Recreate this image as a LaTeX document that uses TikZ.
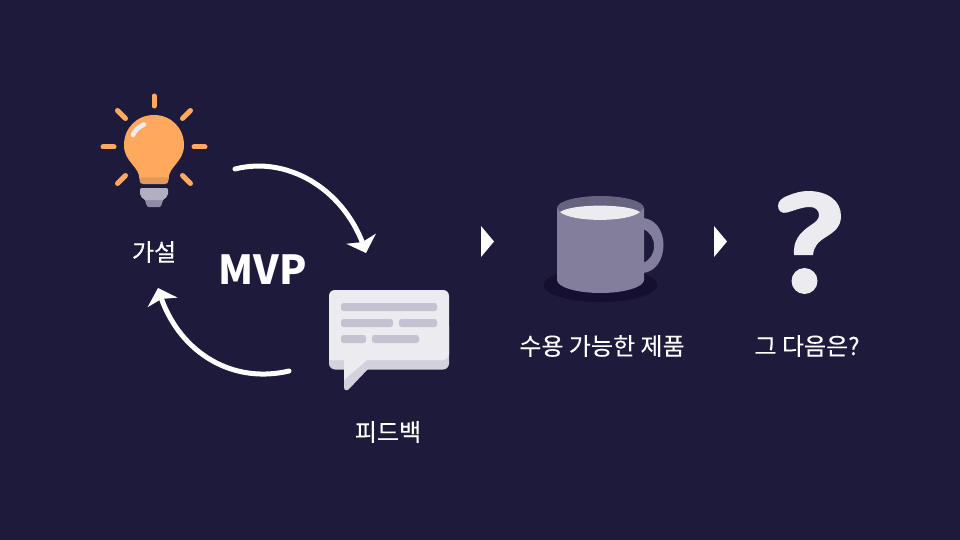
\documentclass[tikz,border=0pt]{standalone}
\usepackage{fontspec}
\setmainfont{Noto Sans CJK KR}
\newfontfamily\lblfont[FakeBold=0.12]{Noto Sans CJK KR}
\usetikzlibrary{arrows.meta,bending}
\definecolor{bgc}{HTML}{1E1A3C}
\definecolor{bulbc}{HTML}{FFA95F}
\definecolor{bulbd}{HTML}{E09B5C}
\definecolor{greyl}{HTML}{B3AFC2}
\definecolor{greyd}{HTML}{8F8BA5}
\definecolor{paper}{HTML}{ECEBF0}
\definecolor{paperd}{HTML}{D3D1DC}
\definecolor{barc}{HTML}{C5C2D2}
\definecolor{mugc}{HTML}{837E9B}
\definecolor{mugd}{HTML}{676280}
\definecolor{shadowc}{HTML}{151030}
\tikzset{
  lbl/.style={text=white,font=\lblfont\fontsize{24}{28}\selectfont,inner sep=0pt},
  ray/.style={draw=bulbc,line width=5pt,line cap=round},
  barline/.style={fill=barc,rounded corners=2.5pt},
  cycle arrow/.style={draw=white,line width=5pt,line cap=round,-{Stealth[length=15pt,width=31pt,inset=3.5pt,flex=1]}},
  chevron/.style={fill=white}
}
\begin{document}
\begin{tikzpicture}[x=1pt,y=-1pt]
\useasboundingbox (0,0) rectangle (960,540);
\fill[bgc] (0,0) rectangle (960,540);
% bulb rays
\draw[ray] (154,96) -- (154,106);
\draw[ray] (103,147) -- (114,147);
\draw[ray] (194,147) -- (205,147);
\draw[ray] (117.5,110.5) -- (125.5,118.5);
\draw[ray] (190.5,110.5) -- (182.5,118.5);
\draw[ray] (117.5,183.5) -- (125.5,175.5);
\draw[ray] (190.5,183.5) -- (182.5,175.5);
% bulb
\fill[bulbc] (139.5,179) .. controls (139,172) and (136,169) .. (132,164)
  .. controls (128,159) and (124,154) .. (124,145)
  .. controls (124,128) and (137,115) .. (154,115)
  .. controls (171,115) and (184,128) .. (184,145)
  .. controls (184,154) and (180,159) .. (176,164)
  .. controls (172,169) and (169,172) .. (168.5,179) -- cycle;
\fill[bulbd] (139.5,177.5) -- (168.5,177.5) -- (168.5,180) .. controls (168.5,183) and (167,184) .. (165,184)
  -- (143,184) .. controls (141,184) and (139.5,183) .. (139.5,180) -- cycle;
\fill[greyd] (144,197) -- (164,197) -- (161.5,205) .. controls (161,206.5) and (160,207) .. (159,207) -- (149,207) .. controls (148,207) and (147,206.5) .. (146.5,205) -- cycle;
\fill[greyl] (142,188) -- (166,188) .. controls (167.5,188) and (168,189) .. (168,190) -- (168,194)
  .. controls (168,197) and (165,198) .. (163,200) -- (145,200) .. controls (143,198) and (140,197) .. (140,194) -- (140,190) .. controls (140,189) and (140.5,188) .. (142,188) -- cycle;
\draw[paper,line width=4.6pt,line cap=round] (133,135) .. controls (135,130) and (139,127) .. (144,124.5);
% cycle arrows
\coordinate (a1s) at (235,169);
\coordinate (a1e) at (366,253);
\coordinate (a2s) at (289,371);
\coordinate (a2e) at (158,288);
\draw[cycle arrow] (a1s) .. controls (290,155) and (348,192) .. (a1e);
\draw[cycle arrow] (a2s) .. controls (230,385) and (175,350) .. (a2e);
% labels
\node[lbl] (hyp) at (154,252) {가설};
\node[text=white,font=\fontsize{40}{46}\selectfont\bfseries,inner sep=0pt] (mvp) at (262.5,269.5) {MVP};
\node[lbl] (fb) at (388,432) {피드백};
\node[lbl] (prod) at (602,346) {수용 가능한 제품};
\node[lbl] (next) at (807,346) {그 다음은?};
% bubble
\fill[paperd,rounded corners=6pt] (329,320) rectangle (449,369.5);
\fill[paperd] (344,360) -- (344,387) .. controls (344,391) and (347,391) .. (349,389) -- (368,369) -- (368,360) -- cycle;
\fill[paper] (344,360) -- (344,380) -- (367,360) -- cycle;
\fill[paper] (329,360) -- (329,296) .. controls (329,292.5) and (331.5,290) .. (335,290) -- (443,290) .. controls (446.5,290) and (449,292.5) .. (449,296) -- (449,354) .. controls (449,357.5) and (446.5,360) .. (443,360) -- cycle;
\fill[barline] (341,303) rectangle (437,311);
\fill[barline] (341,319) rectangle (393,327);
\fill[barline] (399,319) rectangle (437,327);
\fill[barline] (341,335) rectangle (366,343);
\fill[barline] (372,335) rectangle (419,343);
% chevrons
\fill[chevron] (481,226) -- (494,241.5) -- (481,257) -- cycle;
\fill[chevron] (714,226) -- (727,241.5) -- (714,257) -- cycle;
% mug
\fill[shadowc] (600.5,285) ellipse [x radius=57,y radius=17];
\fill[mugc,even odd rule] (640,218) -- (643,218) .. controls (655,219) and (663.5,230) .. (663.5,245) .. controls (663.5,260) and (655,272) .. (643,273) -- (640,273) -- cycle
 (640,229) -- (643,229) .. controls (650,232) and (654,238) .. (654,246) .. controls (654,254) and (650,260) .. (643,263) -- (640,263) -- cycle;
\fill[mugd] (600.5,208) ellipse [x radius=43.5,y radius=12];
\fill[mugc] (557,208) -- (560,212) -- (640,212) -- (644,208) -- (644,280)
  .. controls (644,287) and (624.5,293) .. (600.5,293)
  .. controls (576.5,293) and (557,287) .. (557,280) -- cycle;
\fill[paper] (560,212) .. controls (572,203.5) and (628,203.5) .. (640,212) .. controls (628,222.5) and (572,222.5) .. (560,212) -- cycle;
% question mark
\fill[paper] (778,206) .. controls (778,201) and (782,198) .. (787,196)
  .. controls (794,193) and (801,191) .. (808,191)
  .. controls (828,191) and (841,201) .. (841,216)
  .. controls (841,227) and (834,232) .. (826,237)
  .. controls (818,242) and (814,246) .. (813,255)
  -- (794,255) .. controls (793,241) and (799,233) .. (811,225)
  .. controls (816,222) and (819,219) .. (819,215)
  .. controls (819,210) and (815,207) .. (810,207)
  .. controls (802,207) and (796,210) .. (787,212.5)
  .. controls (782,214) and (778,211) .. (778,206) -- cycle;
\fill[paper] (804.5,281) circle [radius=13];
\end{tikzpicture}
\end{document}
